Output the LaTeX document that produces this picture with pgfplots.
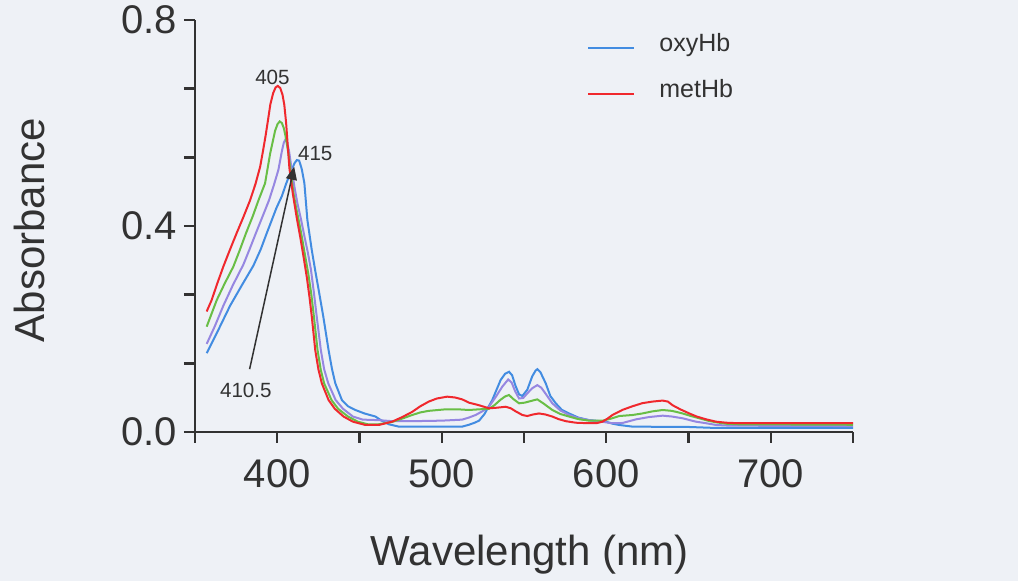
\documentclass[border=0pt]{standalone}
\usepackage{fontspec}
\setmainfont{Liberation Sans}
\usepackage{pgfplots}
\usepackage{pgfplotstable}
\pgfplotsset{compat=1.18}
\usetikzlibrary{arrows.meta}

\definecolor{oxy}{RGB}{66,140,225}
\definecolor{met}{RGB}{240,40,45}
\definecolor{grn}{RGB}{105,190,70}
\definecolor{pur}{RGB}{150,135,225}
\definecolor{paper}{RGB}{238,241,246}
\definecolor{ink}{RGB}{50,50,50}

\pgfplotstableread{
nm a
357.1 0.234
360.1 0.256
363.5 0.288
367.2 0.321
371.0 0.352
375.3 0.386
379.5 0.418
383.5 0.450
386.8 0.482
389.6 0.515
391.3 0.545
392.9 0.575
394.4 0.606
395.8 0.636
397.5 0.658
399.0 0.669
400.3 0.672
401.8 0.668
403.2 0.655
404.3 0.635
405.4 0.600
406.4 0.555
407.4 0.512
409.5 0.462
411.9 0.415
414.0 0.378
416.0 0.340
418.0 0.300
419.6 0.262
421.0 0.224
423.1 0.159
425.0 0.122
427.1 0.0945
431.2 0.062
435.0 0.045
440.3 0.030
446.0 0.020
453.6 0.0136
461.7 0.0136
469.8 0.020
476.0 0.029
482.0 0.039
487.0 0.050
492.1 0.059
497.0 0.065
503.3 0.0686
508.0 0.067
512.4 0.0634
516.5 0.057
522.6 0.052
528.7 0.046
533.0 0.047
538.9 0.049
542.0 0.046
545.0 0.040
549.0 0.033
552.0 0.031
555.5 0.034
559.1 0.036
563.0 0.034
567.2 0.030
571.0 0.025
575.4 0.021
581.5 0.018
589.6 0.017
594.0 0.017
597.7 0.020
600.8 0.026
603.8 0.033
606.9 0.038
609.9 0.043
616.0 0.050
622.0 0.056
628.0 0.059
634.3 0.061
637.5 0.059
640.3 0.052
645.0 0.044
650.5 0.036
655.0 0.030
660.7 0.0246
666.8 0.020
673.0 0.018
680.9 0.017
750.0 0.017
}\metHb

\pgfplotstableread{
nm a
357.1 0.2045
360.0 0.229
363.2 0.256
368.0 0.288
373.3 0.321
377.2 0.353
381.0 0.386
385.0 0.418
388.6 0.450
392.6 0.483
395.7 0.541
398.7 0.585
400.2 0.598
401.5 0.603
402.8 0.600
404.0 0.590
405.0 0.575
406.8 0.541
408.2 0.505
409.8 0.465
411.5 0.435
413.0 0.412
415.0 0.378
416.8 0.345
419.0 0.305
420.8 0.265
422.3 0.224
424.5 0.159
426.5 0.120
428.5 0.0945
433.0 0.062
437.0 0.045
443.0 0.030
449.0 0.020
455.0 0.015
461.7 0.015
469.8 0.0194
476.0 0.026
482.0 0.033
487.0 0.038
492.0 0.041
502.3 0.044
510.0 0.044
516.5 0.0427
522.7 0.044
528.7 0.045
532.0 0.052
535.5 0.062
538.5 0.069
540.9 0.0718
543.5 0.064
547.0 0.0557
550.5 0.057
554.0 0.060
558.1 0.0634
562.0 0.055
567.2 0.0427
572.0 0.035
577.4 0.030
583.0 0.025
589.6 0.022
597.7 0.022
603.0 0.026
607.9 0.031
616.0 0.033
622.0 0.036
628.0 0.040
634.3 0.0427
640.0 0.041
646.4 0.036
651.5 0.031
656.6 0.0266
661.7 0.022
666.8 0.0188
673.0 0.016
680.0 0.015
750.0 0.014
}\midA

\pgfplotstableread{
nm a
357.1 0.171
362.0 0.205
367.2 0.245
373.0 0.285
379.4 0.325
383.2 0.355
387.0 0.386
391.0 0.418
395.0 0.450
398.0 0.480
400.7 0.509
402.8 0.545
404.0 0.562
404.8 0.567
405.8 0.565
407.2 0.545
408.8 0.509
410.5 0.475
412.2 0.445
414.5 0.412
416.5 0.380
418.5 0.350
420.5 0.315
422.3 0.270
424.0 0.224
426.5 0.159
428.5 0.122
431.0 0.0945
435.5 0.062
440.0 0.045
446.0 0.030
452.0 0.024
461.7 0.023
469.8 0.021
482.0 0.021
500.0 0.022
512.4 0.024
516.5 0.028
520.6 0.033
524.6 0.040
528.7 0.049
532.8 0.068
536.8 0.088
540.4 0.102
542.5 0.096
544.5 0.080
547.0 0.065
549.5 0.066
552.0 0.075
555.0 0.085
558.1 0.091
560.5 0.086
563.0 0.075
567.2 0.0557
572.0 0.042
577.4 0.033
583.0 0.027
589.6 0.023
597.0 0.020
603.8 0.017
609.9 0.0175
614.0 0.021
618.2 0.0246
626.0 0.029
634.3 0.0317
640.0 0.030
646.4 0.0266
654.6 0.020
660.7 0.017
666.8 0.0136
675.0 0.0123
750.0 0.0115
}\midB

\pgfplotstableread{
nm a
357.1 0.153
364.0 0.197
371.3 0.245
378.5 0.285
385.5 0.323
390.0 0.355
393.5 0.385
396.5 0.410
399.5 0.435
402.8 0.458
405.5 0.483
408.8 0.509
410.5 0.522
411.9 0.528
413.3 0.527
414.5 0.515
415.0 0.509
416.5 0.483
418.3 0.412
421.0 0.353
423.0 0.315
425.5 0.270
428.0 0.224
431.2 0.159
433.3 0.122
435.3 0.0945
439.3 0.062
443.0 0.050
447.5 0.0427
453.0 0.036
459.7 0.030
463.5 0.022
467.8 0.015
473.9 0.0104
490.0 0.0104
512.4 0.0104
516.5 0.014
520.0 0.018
522.7 0.022
526.0 0.035
530.7 0.062
535.8 0.101
538.5 0.113
540.9 0.117
542.8 0.110
544.8 0.090
547.0 0.073
549.0 0.070
552.0 0.082
555.0 0.108
557.0 0.119
558.1 0.122
560.0 0.116
563.2 0.0945
566.0 0.070
569.3 0.0557
573.0 0.043
577.4 0.036
583.0 0.028
589.6 0.023
599.8 0.020
604.0 0.016
607.9 0.0136
616.0 0.0104
650.5 0.0097
666.8 0.0078
750.0 0.0080
}\oxyHb

\begin{document}
\begin{tikzpicture}
\fill[paper] (0,0) rectangle (509pt,290.5pt);
\useasboundingbox (0,0) rectangle (509pt,290.5pt);
\begin{axis}[
  at={(97.5pt,74.5pt)}, anchor=south west,
  scale only axis, width=329pt, height=206pt,
  xmin=350, xmax=750, ymin=0, ymax=0.8,
  axis x line=bottom, axis y line=left,
  axis line style={-, line width=1.3pt, color=ink},
  xtick={400,500,600,700}, xticklabels={400,500,600,700},
  minor xtick={350,450,550,650,750},
  ytick={0,0.4,0.8}, yticklabels={0.0,0.4,0.8},
  minor ytick={0.13333,0.26667,0.53333,0.66667},
  tick align=outside,
  major tick length=5.5pt, minor tick length=5.5pt,
  every tick/.style={line width=1.2pt, color=ink},
  ticklabel style={font=\fontsize{20pt}{24pt}\selectfont, text=ink},
  xticklabel style={yshift=-5pt},
  xlabel={Wavelength (nm)}, ylabel={Absorbance},
  label style={font=\fontsize{21pt}{25pt}\selectfont, text=ink},
  xlabel style={at={(axis description cs:0.509,-0.2985)}, anchor=center},
  ylabel style={at={(axis description cs:-0.2508,0.49)}, anchor=center},
  legend style={draw=none, fill=none, at={(0.5957,0.978)}, anchor=north west,
    font=\fontsize{12.5pt}{15pt}\selectfont, text=ink, row sep=8.5pt, inner sep=0pt},
  legend cell align=left,
  legend image code/.code={\draw[#1] (0pt,-2pt) -- (23pt,-2pt); \path (33pt,-2pt);},
  clip=false,
]
\addplot[oxy, line width=1pt] table[x=nm, y=a] {\oxyHb};
\addlegendentry{oxyHb}
\addplot[pur, line width=1pt, forget plot] table[x=nm, y=a] {\midB};
\addplot[grn, line width=1pt, forget plot] table[x=nm, y=a] {\midA};
\addplot[met, line width=1pt] table[x=nm, y=a] {\metHb};
\addlegendentry{metHb}

\node[font=\fontsize{10.3pt}{12pt}\selectfont, text=ink] at (axis cs:397.1,0.689) {405};
\node[font=\fontsize{10.3pt}{12pt}\selectfont, text=ink] at (axis cs:423.1,0.541) {415};
\node[font=\fontsize{10.3pt}{12pt}\selectfont, text=ink] at (axis cs:380.9,0.080) {410.5};
\draw[ink, line width=0.75pt, -{Triangle[length=6.5pt,width=5.5pt]}] (axis cs:383.2,0.122) -- (axis cs:410.3,0.515);
\end{axis}
\end{tikzpicture}
\end{document}
